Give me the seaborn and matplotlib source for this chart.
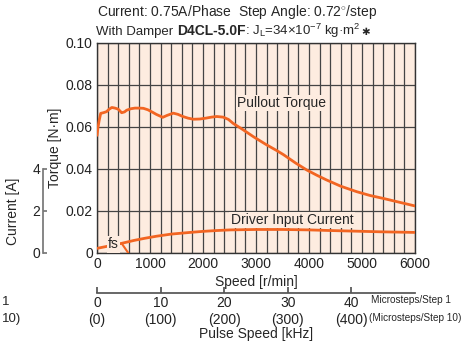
import pandas as pd
import seaborn as sns
import matplotlib
matplotlib.use('Agg')
import matplotlib.pyplot as plt
from matplotlib.ticker import MultipleLocator, FixedLocator, FixedFormatter
from matplotlib.offsetbox import TextArea, HPacker, AnchoredOffsetbox

# pullout torque
torque_rpm = [0, 20, 40, 70, 120, 180, 230, 280, 340, 400, 465, 520, 560, 640,
              717, 800, 875, 960, 1050, 1120, 1190, 1240, 1320, 1440, 1530,
              1620, 1720, 1820, 1940, 2050, 2160, 2260, 2380, 2480, 2570,
              2750, 2950, 3200, 3390, 3520, 3750, 3960, 4150, 4330, 4600,
              4900, 5150, 5400, 5700, 6000]
torque = [0.056, 0.060, 0.063, 0.0665, 0.0668, 0.0673, 0.0685, 0.0693, 0.069,
          0.0685, 0.0668, 0.0672, 0.068, 0.0687, 0.069, 0.069, 0.0689, 0.0682,
          0.067, 0.066, 0.0652, 0.0646, 0.0655, 0.0666, 0.066, 0.065, 0.0642,
          0.0637, 0.0638, 0.0642, 0.0647, 0.065, 0.0647, 0.0636, 0.0617,
          0.0588, 0.0554, 0.0515, 0.0488, 0.0468, 0.0428, 0.0395, 0.0370,
          0.0348, 0.0318, 0.0292, 0.0274, 0.026, 0.0242, 0.0224]

# driver input current [A]
current_rpm = [0, 215, 465, 700, 900, 1125, 1400, 1755, 2000, 2260, 2510,
               3000, 3500, 4000, 4400, 5340, 6000]
current = [0.22, 0.33, 0.46, 0.6, 0.7, 0.8, 0.9, 0.98, 1.03, 1.07, 1.1,
           1.12, 1.12, 1.1, 1.07, 1.01, 0.98]

# starting frequency marker
fs_rpm = [465, 590]
fs_current = [0.46, 0.0]

speed_ticks = [0, 1000, 2000, 3000, 4000, 5000, 6000]
torque_ticks = [0, 0.02, 0.04, 0.06, 0.08, 0.10]
torque_labels = ['0', '0.02', '0.04', '0.06', '0.08', '0.10']
current_ticks = [0, 2, 4]
pulse_ticks = [0, 10, 20, 30, 40]
pulse_labels = ['0\n(0)', '10\n(100)', '20\n(200)', '30\n(300)', '40\n(400)']

ORANGE = '#f26522'
BG = '#fdece0'
GRID = '#444444'
FONT = ['Liberation Sans', 'DejaVu Sans']
FS = 9.5

sns.set_theme(style='white')
plt.rcParams['font.family'] = FONT
plt.rcParams['font.size'] = FS
plt.rcParams['mathtext.fontset'] = 'custom'
plt.rcParams['mathtext.rm'] = 'Liberation Sans'
plt.rcParams['mathtext.it'] = 'Liberation Sans'

fig = plt.figure(figsize=(4.68, 3.43), dpi=100)
ax = fig.add_axes([97 / 468, 90 / 343, 318 / 468, 210 / 343])
ax.set_facecolor(BG)

df_t = pd.DataFrame({'rpm': torque_rpm, 'torque': torque})
sns.lineplot(data=df_t, x='rpm', y='torque', ax=ax, color=ORANGE, lw=2,
             zorder=3)

ax.set_xlim(0, 6000)
ax.set_ylim(0, 0.10)
ax.xaxis.set_major_locator(FixedLocator(speed_ticks))
ax.xaxis.set_minor_locator(MultipleLocator(200))
ax.yaxis.set_major_locator(FixedLocator(torque_ticks))
ax.yaxis.set_major_formatter(FixedFormatter(torque_labels))
ax.grid(True, which='both', axis='x', color=GRID, lw=0.9)
ax.grid(True, which='major', axis='y', color=GRID, lw=0.9)
ax.tick_params(axis='both', which='both', length=0, pad=3, labelsize=FS + 0.5,
               colors='#222222')
for s in ax.spines.values():
    s.set_color('#333333')
    s.set_linewidth(1.0)
ax.set_xlabel('Speed [r/min]', fontsize=FS + 0.5)
ax.set_ylabel('Torque [N·m]', fontsize=FS + 0.5)
ax.xaxis.set_label_coords(0.5, -22 / 210)
ax.yaxis.set_label_coords(-35 / 318, 0.5)

# current axis on the far left
axc = ax.twinx()
axc.patch.set_visible(False)
axc.set_ylim(0, 10)
df_c = pd.DataFrame({'rpm': current_rpm, 'current': current})
sns.lineplot(data=df_c, x='rpm', y='current', ax=axc, color=ORANGE, lw=2)
df_fs = pd.DataFrame({'rpm': fs_rpm, 'current': fs_current})
sns.lineplot(data=df_fs, x='rpm', y='current', ax=axc, color=ORANGE, lw=1.5)
axc.set_xlim(0, 6000)
for k in ('top', 'right', 'bottom'):
    axc.spines[k].set_visible(False)
axc.spines['left'].set_visible(True)
axc.spines['left'].set_position(('axes', -54 / 318))
axc.spines['left'].set_bounds(0, 4)
axc.spines['left'].set_color('#777777')
axc.yaxis.set_ticks_position('left')
axc.yaxis.set_label_position('left')
axc.set_yticks(current_ticks)
axc.tick_params(axis='y', direction='in', length=3, pad=2, labelsize=FS + 0.5,
                colors='#222222')
axc.tick_params(axis='y', color='#777777')
axc.set_ylabel('Current [A]', fontsize=FS + 0.5)
axc.yaxis.set_label_coords(-77 / 318, 0.2)
axc.set_xlabel('')

box = dict(facecolor=BG, edgecolor='none', pad=1)
axc.text(310, 0.42, 'fs', ha='center', va='center', fontsize=FS + 0.5,
         bbox=box, zorder=5)
axc.text(2520, 1.57, 'Driver Input Current', ha='left', va='center',
         fontsize=FS + 0.5, bbox=box, zorder=5)
ax.text(2640, 0.0714, 'Pullout Torque', ha='left', va='center',
        fontsize=FS + 0.5, bbox=box, zorder=5)

# pulse speed axis
sec = ax.secondary_xaxis(-40 / 210, functions=(lambda r: r / 120,
                                              lambda k: k * 120))
sec.set_xticks(pulse_ticks)
sec.set_xticklabels(pulse_labels, linespacing=1.25)
sec.tick_params(direction='in', length=4, pad=2, labelsize=FS + 0.5,
                colors='#222222', color='#555555')
sec.spines['bottom'].set_color('#555555')
fig.text(256 / 468, 1 - 334 / 343, 'Pulse Speed [kHz]', fontsize=FS + 0.5,
         ha='center', va='center')

fig.text(371 / 468, 1 - 300 / 343, 'Microsteps/Step 1', fontsize=7.2,
         va='center', ha='left')
fig.text(369 / 468, 1 - 318 / 343, '(Microsteps/Step 10)', fontsize=7.2,
         va='center', ha='left')
fig.text(0.004, 1 - 302 / 343, '1', fontsize=FS, va='center')
fig.text(0.004, 1 - 319 / 343, '10)', fontsize=FS, va='center')

# header
fig.text(97 / 468, 1 - 12 / 343, 'Current: 0.75A/Phase  Step Angle: 0.72$^{\\circ}$/step',
         fontsize=10, va='center', ha='left')
parts = HPacker(children=[
    TextArea('With Damper ', textprops=dict(fontsize=9.5, family=FONT)),
    TextArea('D4CL-5.0F', textprops=dict(fontsize=10, weight='bold',
                                         family=['Liberation Sans'])),
    TextArea(': J$_\\mathrm{L}$=34×10$^{-7}$ kg·m$^2$', textprops=dict(fontsize=9.5, family=FONT)),
    TextArea('✱', textprops=dict(fontsize=7.5, family=['DejaVu Sans'], weight='bold')),
], align='baseline', pad=0, sep=0)
anch = AnchoredOffsetbox(loc='center left', child=parts, pad=0, borderpad=0,
                         frameon=False, bbox_to_anchor=(96 / 468, 1 - 31 / 343),
                         bbox_transform=fig.transFigure)
fig.add_artist(anch)

fig.savefig('out.png', dpi=100)
